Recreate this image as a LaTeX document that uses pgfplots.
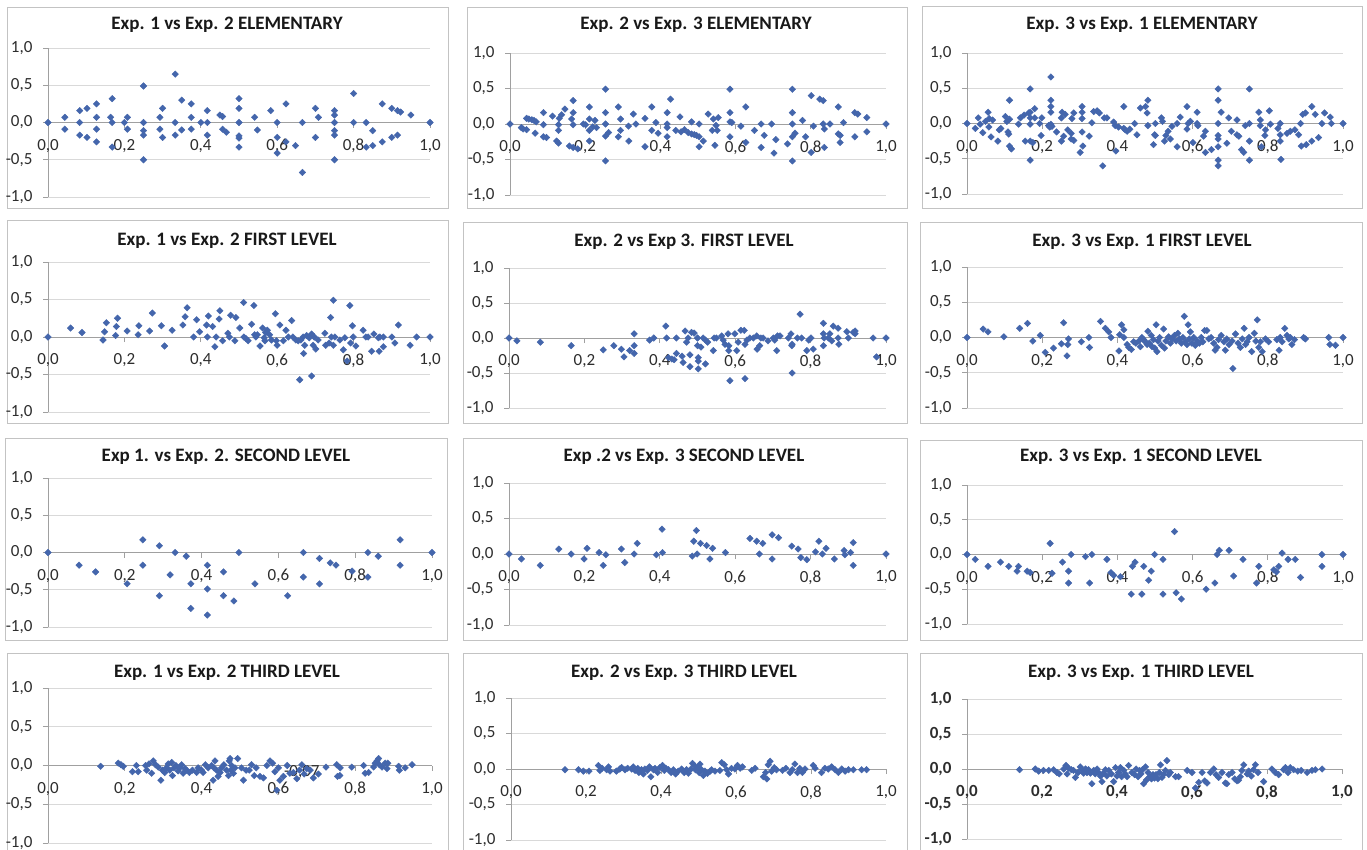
\documentclass[border=0pt]{standalone}
\usepackage{pgfplots}
\pgfplotsset{compat=1.18}
\usepackage{fontspec}
\setmainfont{Carlito}
\definecolor{mk}{RGB}{68,102,172}
\definecolor{gridc}{RGB}{217,217,217}
\definecolor{axc}{RGB}{160,160,160}
\definecolor{txt}{RGB}{45,45,45}
\definecolor{ttl}{RGB}{25,25,25}
\definecolor{brd}{RGB}{195,195,195}
\pgfplotsset{
 panel/.style={
  scale only axis, clip=false,
  xmin=0,xmax=1,ymin=-1,ymax=1,
  axis x line=middle, axis y line=left,
  axis line style={draw=axc,line width=0.9pt,-},
  hide obscured x ticks=false, hide obscured y ticks=false,
  xtick={0,0.2,0.4,0.6,0.8,1}, ytick={-1,-0.5,0,0.5,1},
  ymajorgrids, grid style={draw=gridc, line width=0.9pt},
  tick style={draw=axc, line width=0.9pt}, tick align=outside, major tick length=5pt,
  x tick label style={yshift=-8pt},
  y tick label style={xshift=-7pt},
  tick label style={font=\fontsize{17}{19}\selectfont, text=txt},
  /pgf/number format/fixed, /pgf/number format/fixed zerofill,
  /pgf/number format/precision=1, /pgf/number format/use comma,
  /pgf/number format/assume math mode=true,
 },
 pts/.style={only marks, mark=square*, mark size=2.3pt, mark options={rotate=45, fill=mk, draw=mk}},
}
\newcommand{\ttlfont}{\fontsize{19}{21}\selectfont\bfseries}
\begin{document}
\begin{tikzpicture}
\useasboundingbox (0pt,0pt) rectangle (1367pt,-849pt);
\fill[white] (0pt,0pt) rectangle (1367pt,-849pt);
% borders
\draw[brd, line width=0.9pt] (7pt,-7pt) rectangle (448pt,-208pt);
\draw[brd, line width=0.9pt] (467pt,-7pt) rectangle (907pt,-208pt);
\draw[brd, line width=0.9pt] (922pt,-6pt) rectangle (1362pt,-208pt);
\draw[brd, line width=0.9pt] (7pt,-220pt) rectangle (448pt,-423pt);
\draw[brd, line width=0.9pt] (463pt,-222pt) rectangle (907pt,-423pt);
\draw[brd, line width=0.9pt] (920pt,-222pt) rectangle (1362pt,-423pt);
\draw[brd, line width=0.9pt] (5pt,-438pt) rectangle (447pt,-640pt);
\draw[brd, line width=0.9pt] (463pt,-438pt) rectangle (907pt,-640pt);
\draw[brd, line width=0.9pt] (920pt,-440pt) rectangle (1362pt,-640pt);
\draw[brd, line width=0.9pt] (7pt,-860pt) -- (7pt,-653pt) -- (448pt,-653pt) -- (448pt,-860pt);
\draw[brd, line width=0.9pt] (463pt,-860pt) -- (463pt,-653pt) -- (907pt,-653pt) -- (907pt,-860pt);
\draw[brd, line width=0.9pt] (920pt,-860pt) -- (920pt,-653pt) -- (1362pt,-653pt) -- (1362pt,-860pt);
% titles
\node[font=\ttlfont, text=ttl] at (227pt,-25pt) {Exp. 1 vs Exp. 2 ELEMENTARY};
\node[font=\ttlfont, text=ttl] at (696pt,-25pt) {Exp. 2 vs Exp. 3 ELEMENTARY};
\node[font=\ttlfont, text=ttl] at (1142pt,-25pt) {Exp. 3 vs Exp. 1 ELEMENTARY};
\node[font=\ttlfont, text=ttl] at (227pt,-241pt) {Exp. 1 vs Exp. 2 FIRST LEVEL};
\node[font=\ttlfont, text=ttl] at (684pt,-242pt) {Exp. 2 vs Exp 3. FIRST LEVEL};
\node[font=\ttlfont, text=ttl] at (1142pt,-242pt) {Exp. 3 vs Exp. 1 FIRST LEVEL};
\node[font=\ttlfont, text=ttl] at (226pt,-457pt) {Exp 1. vs Exp. 2. SECOND LEVEL};
\node[font=\ttlfont, text=ttl] at (684pt,-457pt) {Exp .2 vs Exp. 3 SECOND LEVEL};
\node[font=\ttlfont, text=ttl] at (1141pt,-457pt) {Exp. 3 vs Exp. 1 SECOND LEVEL};
\node[font=\ttlfont, text=ttl] at (227pt,-673pt) {Exp. 1 vs Exp. 2 THIRD LEVEL};
\node[font=\ttlfont, text=ttl] at (684pt,-673pt) {Exp. 2 vs Exp. 3 THIRD LEVEL};
\node[font=\ttlfont, text=ttl] at (1141pt,-673pt) {Exp. 3 vs Exp. 1 THIRD LEVEL};

% Panel 1
\begin{axis}[panel, at={(48pt,-197pt)}, anchor=south west, width=382pt, height=149pt]
\addplot[pts] coordinates {(0,0) (0.044,0.07) (0.044,-0.09) (0.083,0.16) (0.083,0) (0.083,-0.17) (0.102,0.19) (0.102,-0.20) (0.127,0.25) (0.127,0.07) (0.127,-0.09) (0.127,-0.26) (0.164,0.07) (0.168,0.32) (0.168,0) (0.168,-0.33) (0.2,0) (0.208,0.07) (0.208,-0.09) (0.25,0.49) (0.25,0) (0.25,-0.11) (0.25,-0.17) (0.25,-0.5) (0.293,0.07) (0.293,-0.09) (0.3,0.19) (0.3,-0.2) (0.333,0.65) (0.333,0) (0.333,-0.17) (0.35,0.3) (0.35,-0.1) (0.375,0.25) (0.375,0.07) (0.375,-0.09) (0.4,0) (0.417,0.16) (0.417,0) (0.417,-0.17) (0.45,0.1) (0.457,0.08) (0.457,-0.09) (0.467,-0.13) (0.5,0.32) (0.5,0.19) (0.5,0) (0.5,-0.18) (0.5,-0.21) (0.5,-0.33) (0.541,0.07) (0.548,-0.1) (0.583,0.16) (0.6,0) (0.6,-0.2) (0.6,-0.41) (0.623,0.25) (0.623,-0.26) (0.648,-0.31) (0.666,0) (0.666,-0.67) (0.7,0.19) (0.7,-0.2) (0.708,0.07) (0.75,0.16) (0.75,0.1) (0.75,0) (0.75,-0.11) (0.75,-0.17) (0.75,-0.5) (0.8,0.39) (0.8,0) (0.833,0) (0.833,-0.33) (0.85,-0.11) (0.85,-0.31) (0.875,0.25) (0.875,-0.26) (0.9,0.19) (0.9,-0.2) (0.915,0.16) (0.915,-0.17) (0.923,0.14) (0.95,0.1) (1,0)};
\end{axis}

% Panel 2
\begin{axis}[panel, at={(510pt,-195pt)}, anchor=south west, width=376pt, height=142pt]
\addplot[pts] coordinates {(0,0) (0.03,-0.05) (0.035,-0.07) (0.044,-0.08) (0.044,0.08) (0.05,0.07) (0.058,0.06) (0.064,0.05) (0.07,0.03) (0.067,-0.13) (0.089,0.16) (0.089,-0.01) (0.089,-0.18) (0.097,-0.19) (0.113,0.11) (0.124,-0.24) (0.129,-0.27) (0.129,-0.09) (0.129,-0.01) (0.131,0.08) (0.137,0.13) (0.146,0.21) (0.158,-0.31) (0.164,0.07) (0.168,0.33) (0.168,0.16) (0.168,-0.01) (0.168,-0.33) (0.18,-0.35) (0.195,0) (0.201,-0.01) (0.211,0.24) (0.211,0.07) (0.211,-0.09) (0.211,-0.24) (0.22,-0.04) (0.226,0.05) (0.23,-0.05) (0.254,0.49) (0.254,0.16) (0.254,0) (0.254,-0.17) (0.254,-0.52) (0.262,-0.12) (0.288,0.24) (0.288,-0.18) (0.294,0.07) (0.294,-0.09) (0.315,-0.03) (0.316,-0.24) (0.328,0.14) (0.335,0) (0.359,0.08) (0.359,-0.32) (0.377,0.24) (0.377,-0.09) (0.388,0.02) (0.394,-0.13) (0.418,0.16) (0.418,0) (0.418,-0.05) (0.418,-0.18) (0.427,0.35) (0.441,-0.09) (0.452,0.1) (0.455,-0.11) (0.464,-0.08) (0.474,-0.12) (0.483,0.03) (0.483,-0.14) (0.49,-0.15) (0.496,-0.16) (0.503,0) (0.503,-0.18) (0.503,-0.32) (0.514,-0.24) (0.527,0.14) (0.538,-0.09) (0.541,0.07) (0.545,-0.3) (0.548,-0.02) (0.551,-0.09) (0.554,0.09) (0.585,0.49) (0.585,0.16) (0.585,0.03) (0.585,-0.18) (0.59,0.02) (0.614,-0.03) (0.627,0.24) (0.627,-0.26) (0.65,-0.09) (0.668,0) (0.668,-0.33) (0.676,-0.16) (0.696,0) (0.702,-0.41) (0.707,-0.22) (0.738,-0.28) (0.751,0.49) (0.751,0.16) (0.751,0) (0.751,-0.18) (0.751,-0.52) (0.758,-0.13) (0.778,0.05) (0.786,-0.18) (0.801,0.4) (0.801,-0.4) (0.807,-0.03) (0.824,0.35) (0.833,0.33) (0.833,0) (0.836,-0.07) (0.836,-0.33) (0.851,0) (0.873,0.24) (0.873,-0.14) (0.878,-0.16) (0.878,-0.26) (0.887,0.02) (0.917,0.16) (0.917,-0.18) (0.925,0.14) (0.949,0.09) (0.949,-0.11) (1,0)};
\end{axis}

% Panel 3
\begin{axis}[panel, at={(967pt,-194pt)}, anchor=south west, width=376pt, height=141pt]
\addplot[pts] coordinates {(0,0) (0.022,-0.07) (0.03,0.08) (0.035,-0.01) (0.042,-0.13) (0.049,0.03) (0.056,0.16) (0.058,-0.05) (0.059,0.07) (0.064,-0.19) (0.068,0.05) (0.082,-0.25) (0.086,-0.09) (0.09,-0.07) (0.102,0.1) (0.106,0.03) (0.109,-0.12) (0.111,-0.15) (0.113,0.33) (0.113,0.06) (0.113,-0.32) (0.118,-0.36) (0.137,-0.01) (0.142,0.08) (0.152,0.12) (0.155,-0.25) (0.164,0.15) (0.168,0.49) (0.168,0.16) (0.168,0.08) (0.168,-0.01) (0.168,-0.25) (0.168,-0.52) (0.175,-0.27) (0.18,0.21) (0.18,0.08) (0.193,0) (0.197,-0.17) (0.199,0.08) (0.217,-0.03) (0.22,-0.05) (0.223,0.66) (0.223,0.33) (0.223,0.24) (0.223,0.16) (0.223,-0.01) (0.226,-0.04) (0.238,-0.12) (0.251,-0.25) (0.251,0.08) (0.253,0.16) (0.257,-0.18) (0.261,0.13) (0.268,-0.09) (0.277,-0.14) (0.277,-0.22) (0.279,0.07) (0.284,0.15) (0.284,-0.24) (0.301,-0.41) (0.306,0.24) (0.306,0.16) (0.306,0.07) (0.306,-0.12) (0.308,-0.32) (0.325,-0.18) (0.332,0.01) (0.337,0.17) (0.346,0.18) (0.352,0.15) (0.361,-0.6) (0.365,0.08) (0.372,0.08) (0.39,0.02) (0.394,-0.03) (0.396,-0.39) (0.403,-0.05) (0.417,0.24) (0.417,-0.07) (0.421,-0.09) (0.426,-0.11) (0.433,-0.08) (0.446,0) (0.452,-0.16) (0.461,0.22) (0.475,0.24) (0.479,0.15) (0.481,0.33) (0.481,-0.03) (0.496,-0.3) (0.499,-0.16) (0.501,0) (0.501,-0.17) (0.517,0.08) (0.52,0.03) (0.525,-0.25) (0.529,-0.17) (0.535,-0.11) (0.541,-0.22) (0.545,-0.04) (0.559,0) (0.559,-0.33) (0.567,0.09) (0.585,0.24) (0.585,-0.08) (0.588,0) (0.594,0.03) (0.601,-0.27) (0.612,0.16) (0.612,0) (0.614,-0.03) (0.629,-0.18) (0.634,-0.11) (0.634,-0.41) (0.65,-0.37) (0.668,0.49) (0.668,0.33) (0.668,0) (0.668,-0.17) (0.668,-0.22) (0.668,-0.33) (0.668,-0.52) (0.668,-0.6) (0.676,0.16) (0.691,-0.28) (0.696,0.08) (0.703,-0.11) (0.718,0.05) (0.718,-0.16) (0.723,-0.18) (0.73,-0.37) (0.736,-0.41) (0.74,-0.03) (0.751,0.49) (0.751,0) (0.751,-0.25) (0.751,-0.52) (0.776,0.16) (0.78,0.05) (0.78,-0.03) (0.783,-0.33) (0.792,-0.17) (0.794,-0.09) (0.804,0.18) (0.807,-0.01) (0.827,-0.07) (0.833,0) (0.833,-0.16) (0.833,-0.25) (0.835,-0.51) (0.851,-0.14) (0.86,-0.11) (0.872,-0.09) (0.882,-0.16) (0.887,0) (0.889,-0.32) (0.893,0.13) (0.9,0.15) (0.902,-0.3) (0.917,0.24) (0.917,-0.25) (0.926,0.13) (0.935,-0.2) (0.944,0) (0.951,0.15) (0.966,0.09) (0.969,0) (1,0)};
\end{axis}

% Panel 4
\begin{axis}[panel, at={(48pt,-412pt)}, anchor=south west, width=382pt, height=150pt]
\addplot[pts] coordinates {(0,0) (0.059,0.12) (0.089,0.06) (0.144,-0.04) (0.148,0.07) (0.153,0.19) (0.177,0.02) (0.179,0.14) (0.182,0.25) (0.207,0.08) (0.236,0.03) (0.238,0.15) (0.266,0.08) (0.273,0.32) (0.297,0.15) (0.305,-0.12) (0.325,0.09) (0.353,0.16) (0.359,0.27) (0.364,0.39) (0.381,0) (0.389,0.23) (0.397,0.07) (0.415,0.16) (0.417,0) (0.42,0.28) (0.431,0.14) (0.437,-0.13) (0.44,0) (0.448,0.24) (0.45,0.35) (0.457,-0.05) (0.471,0.05) (0.475,0) (0.478,0.29) (0.489,-0.05) (0.492,0.26) (0.502,0.12) (0.512,0.46) (0.513,0) (0.518,-0.02) (0.524,-0.05) (0.533,0.17) (0.539,0.42) (0.541,0.03) (0.544,0) (0.548,0.03) (0.555,-0.12) (0.562,0.12) (0.566,-0.01) (0.568,-0.05) (0.57,0.06) (0.574,0.09) (0.58,0.03) (0.585,-0.04) (0.595,0.31) (0.598,-0.05) (0.6,-0.11) (0.607,0.16) (0.616,-0.05) (0.623,0.09) (0.629,0) (0.638,0.22) (0.641,0) (0.649,-0.04) (0.655,-0.05) (0.659,-0.57) (0.662,-0.04) (0.668,0) (0.669,-0.22) (0.672,-0.11) (0.677,0.02) (0.684,-0.01) (0.69,-0.52) (0.69,0.04) (0.694,-0.11) (0.697,0) (0.701,-0.16) (0.707,-0.04) (0.725,0.05) (0.727,-0.11) (0.736,-0.08) (0.74,0.26) (0.742,0) (0.747,0.49) (0.747,-0.11) (0.751,0) (0.764,-0.04) (0.773,-0.17) (0.777,-0.01) (0.783,-0.32) (0.79,0.42) (0.792,-0.08) (0.797,0.15) (0.799,0) (0.806,-0.12) (0.825,0.09) (0.832,0) (0.838,0) (0.847,-0.19) (0.853,0.04) (0.865,-0.01) (0.867,-0.19) (0.869,0) (0.878,-0.13) (0.878,0) (0.9,0) (0.908,-0.08) (0.917,0.16) (0.948,-0.11) (0.965,0) (1,0)};
\end{axis}

% Panel 5
\begin{axis}[panel, at={(509pt,-408pt)}, anchor=south west, width=377pt, height=140pt]
\addplot[pts] coordinates {(0,0) (0.021,-0.04) (0.083,-0.06) (0.165,-0.11) (0.25,-0.17) (0.278,-0.11) (0.298,-0.16) (0.305,-0.27) (0.32,-0.18) (0.332,0.06) (0.332,-0.11) (0.332,-0.22) (0.373,-0.03) (0.384,0) (0.416,0.17) (0.418,0) (0.423,-0.28) (0.432,-0.3) (0.438,-0.31) (0.444,0) (0.444,-0.22) (0.459,-0.26) (0.462,-0.35) (0.467,0.1) (0.471,-0.06) (0.475,0) (0.48,-0.24) (0.48,-0.41) (0.484,0.08) (0.491,0.07) (0.5,0) (0.5,-0.11) (0.502,-0.28) (0.502,-0.33) (0.502,-0.44) (0.509,-0.13) (0.515,0) (0.521,-0.03) (0.521,-0.37) (0.527,-0.06) (0.544,0) (0.542,-0.18) (0.55,0) (0.564,0.03) (0.568,-0.03) (0.573,-0.09) (0.581,0.06) (0.583,-0.18) (0.583,-0.11) (0.586,-0.61) (0.599,0.06) (0.604,-0.18) (0.608,-0.06) (0.615,0.11) (0.624,0.11) (0.626,-0.58) (0.626,-0.09) (0.631,-0.03) (0.639,0) (0.648,0) (0.657,0.03) (0.658,-0.16) (0.665,-0.11) (0.668,0) (0.674,0) (0.687,-0.04) (0.701,0) (0.705,-0.03) (0.71,-0.18) (0.712,0.03) (0.719,0.03) (0.741,0) (0.748,0.06) (0.75,-0.11) (0.751,-0.5) (0.751,-0.09) (0.765,0) (0.772,0.34) (0.776,0) (0.79,-0.18) (0.795,-0.03) (0.801,0) (0.807,-0.16) (0.834,0.21) (0.834,0.06) (0.834,-0.11) (0.836,0) (0.847,0) (0.851,0.06) (0.856,-0.04) (0.86,0.17) (0.873,0.14) (0.873,0) (0.875,-0.09) (0.896,0.09) (0.9,0) (0.913,0.08) (0.918,0.1) (0.918,0.06) (0.966,0) (0.975,-0.27) (1,0)};
\end{axis}

% Panel 6
\begin{axis}[panel, at={(967pt,-408pt)}, anchor=south west, width=376pt, height=141pt]
\addplot[pts] coordinates {(0,0) (0.043,0.12) (0.056,0.08) (0.098,0.01) (0.14,0.13) (0.161,0.2) (0.175,-0.05) (0.195,0.03) (0.208,-0.21) (0.23,-0.15) (0.251,-0.09) (0.257,0.21) (0.266,-0.26) (0.268,-0.1) (0.27,-0.02) (0.304,-0.06) (0.324,0) (0.326,-0.14) (0.355,0.23) (0.368,0.13) (0.377,0.08) (0.383,0) (0.404,-0.19) (0.406,0.04) (0.411,0.18) (0.417,0.11) (0.417,0) (0.426,-0.1) (0.43,-0.14) (0.437,-0.17) (0.443,-0.06) (0.449,-0.08) (0.457,-0.05) (0.461,-0.13) (0.465,0) (0.47,-0.03) (0.474,-0.06) (0.479,-0.1) (0.481,0.09) (0.485,-0.08) (0.49,0.03) (0.492,-0.13) (0.496,-0.03) (0.499,-0.15) (0.503,0.18) (0.505,-0.2) (0.508,-0.05) (0.512,0) (0.517,-0.11) (0.523,0.12) (0.525,-0.15) (0.529,-0.05) (0.536,0.01) (0.541,-0.08) (0.545,-0.02) (0.552,0.03) (0.556,-0.05) (0.561,0.06) (0.565,-0.02) (0.57,-0.08) (0.574,0) (0.578,0.3) (0.581,-0.06) (0.585,-0.1) (0.588,0.18) (0.591,-0.02) (0.594,0.08) (0.598,-0.08) (0.603,0) (0.607,-0.11) (0.612,-0.05) (0.618,-0.08) (0.623,0) (0.627,-0.06) (0.632,0.1) (0.638,0.1) (0.643,-0.02) (0.649,0) (0.656,-0.08) (0.66,-0.18) (0.665,-0.14) (0.669,-0.03) (0.676,0.03) (0.683,-0.06) (0.687,-0.18) (0.691,-0.02) (0.697,-0.1) (0.705,-0.05) (0.707,-0.44) (0.714,0.05) (0.721,-0.08) (0.727,-0.14) (0.732,-0.02) (0.737,0.13) (0.741,-0.1) (0.745,-0.06) (0.75,0) (0.757,-0.2) (0.764,0.06) (0.768,-0.05) (0.772,0.25) (0.776,-0.14) (0.78,-0.06) (0.785,-0.2) (0.794,-0.02) (0.802,-0.06) (0.824,-0.03) (0.83,-0.18) (0.833,0) (0.838,-0.06) (0.845,0.13) (0.851,0.03) (0.856,-0.02) (0.86,0) (0.864,-0.1) (0.871,-0.03) (0.895,0) (0.9,-0.02) (0.962,0) (0.965,-0.1) (0.98,-0.11) (1,0)};
\end{axis}

% Panel 7
\begin{axis}[panel, at={(48pt,-627pt)}, anchor=south west, width=384pt, height=149pt]
\addplot[pts] coordinates {(0,0) (0.081,-0.17) (0.124,-0.26) (0.206,-0.42) (0.247,0.17) (0.247,-0.17) (0.29,0.09) (0.29,-0.58) (0.318,-0.3) (0.331,0) (0.36,-0.05) (0.372,-0.42) (0.372,-0.75) (0.415,-0.17) (0.415,-0.49) (0.415,-0.84) (0.457,-0.26) (0.457,-0.58) (0.484,-0.65) (0.497,0) (0.539,-0.42) (0.624,-0.58) (0.665,0) (0.665,-0.33) (0.707,-0.08) (0.707,-0.42) (0.735,-0.14) (0.75,-0.17) (0.792,-0.25) (0.833,0) (0.833,-0.33) (0.86,-0.05) (0.917,0.17) (0.917,-0.17) (1,0)};
\end{axis}

% Panel 8
\begin{axis}[panel, at={(509pt,-625pt)}, anchor=south west, width=377pt, height=142pt]
\addplot[pts] coordinates {(0,0) (0.033,-0.07) (0.083,-0.16) (0.132,0.07) (0.165,0) (0.199,-0.07) (0.207,0.08) (0.239,0.02) (0.25,-0.16) (0.257,-0.01) (0.298,0.07) (0.307,-0.12) (0.332,0) (0.34,0.15) (0.391,-0.01) (0.406,0.35) (0.407,0.02) (0.486,-0.03) (0.49,0.18) (0.497,0.33) (0.499,0) (0.508,0.15) (0.524,0.12) (0.533,-0.07) (0.54,0.08) (0.574,0.02) (0.639,0.22) (0.657,0.18) (0.664,0) (0.673,0.15) (0.698,0.27) (0.698,-0.07) (0.715,0.23) (0.75,0.11) (0.767,0.07) (0.774,-0.05) (0.79,-0.08) (0.813,0.03) (0.822,0.18) (0.831,0) (0.841,0.08) (0.863,-0.07) (0.889,0.05) (0.891,-0.01) (0.906,0.02) (0.913,0.16) (0.913,-0.16) (1,0)};
\end{axis}

% Panel 9
\begin{axis}[panel, at={(967pt,-624pt)}, anchor=south west, width=376pt, height=139pt]
\addplot[pts] coordinates {(0,0) (0.022,-0.07) (0.056,-0.17) (0.089,-0.11) (0.111,-0.17) (0.133,-0.24) (0.137,-0.17) (0.16,-0.24) (0.168,-0.26) (0.221,0.16) (0.226,-0.27) (0.254,-0.11) (0.27,-0.24) (0.27,-0.41) (0.277,0) (0.315,-0.03) (0.326,-0.41) (0.332,0) (0.372,-0.07) (0.383,-0.26) (0.39,-0.3) (0.408,-0.32) (0.437,-0.57) (0.44,-0.17) (0.447,-0.11) (0.465,-0.57) (0.47,-0.17) (0.483,-0.37) (0.49,-0.24) (0.499,0) (0.521,-0.07) (0.521,-0.57) (0.552,0.33) (0.556,-0.55) (0.57,-0.64) (0.636,-0.5) (0.659,-0.41) (0.665,0) (0.671,0.06) (0.697,0.06) (0.709,-0.31) (0.734,-0.07) (0.77,-0.41) (0.776,-0.17) (0.816,-0.22) (0.823,-0.25) (0.829,-0.17) (0.838,0.02) (0.854,-0.07) (0.873,-0.07) (0.887,-0.33) (0.944,0) (0.944,-0.17) (1,0)};
\end{axis}

% Panel 10
\begin{axis}[panel, at={(48pt,-843pt)}, anchor=south west, width=384pt, height=155pt]
\addplot[pts] coordinates {(0.137,-0.01) (0.183,0.03) (0.19,0.01) (0.196,-0.01) (0.22,-0.08) (0.23,0) (0.235,-0.08) (0.254,0) (0.257,-0.06) (0.263,0.02) (0.27,-0.1) (0.274,0.06) (0.28,0.01) (0.287,-0.02) (0.294,-0.19) (0.298,-0.06) (0.304,-0.09) (0.309,-0.03) (0.313,0.02) (0.317,-0.06) (0.322,0.04) (0.324,-0.13) (0.328,-0.03) (0.333,0) (0.339,-0.07) (0.343,-0.03) (0.348,0.01) (0.352,-0.1) (0.357,-0.04) (0.361,-0.06) (0.368,-0.09) (0.376,-0.06) (0.387,-0.09) (0.391,-0.03) (0.4,-0.06) (0.404,-0.09) (0.41,0.01) (0.417,-0.03) (0.426,0) (0.432,-0.03) (0.435,0.06) (0.439,-0.06) (0.443,-0.14) (0.43,-0.19) (0.448,-0.09) (0.452,-0.03) (0.458,0.01) (0.465,-0.06) (0.47,-0.13) (0.472,0.06) (0.474,0.09) (0.476,-0.06) (0.478,0) (0.483,-0.1) (0.487,-0.03) (0.494,0.09) (0.504,-0.03) (0.509,-0.19) (0.516,-0.06) (0.524,-0.06) (0.53,0.01) (0.537,-0.13) (0.542,-0.03) (0.552,-0.14) (0.561,-0.16) (0.57,0) (0.578,0.06) (0.585,0.03) (0.591,-0.08) (0.596,-0.32) (0.6,-0.03) (0.604,-0.19) (0.613,-0.14) (0.623,0) (0.63,-0.1) (0.639,-0.09) (0.648,-0.17) (0.655,-0.06) (0.661,0.01) (0.667,-0.11) (0.674,-0.04) (0.683,-0.06) (0.691,-0.16) (0.704,-0.11) (0.724,-0.02) (0.752,0.01) (0.754,-0.14) (0.76,-0.13) (0.761,-0.03) (0.791,-0.02) (0.822,0) (0.826,-0.1) (0.835,-0.09) (0.848,-0.02) (0.852,0.03) (0.857,0.06) (0.861,0.09) (0.863,0.01) (0.87,-0.02) (0.878,0.03) (0.883,-0.04) (0.885,0.03) (0.913,-0.01) (0.915,-0.06) (0.93,-0.03) (0.948,0.01)};
\node[font=\fontsize{17}{19}\selectfont, text=txt] at (axis cs:0.661,-0.08) {-0,07};
\end{axis}

% Panel 11
\begin{axis}[panel, at={(511pt,-840pt)}, anchor=south west, width=375pt, height=142pt]
\addplot[pts] coordinates {(0.144,-0.01) (0.18,-0.01) (0.193,-0.03) (0.208,-0.03) (0.233,0.05) (0.237,-0.02) (0.243,0.01) (0.255,-0.01) (0.26,0.03) (0.264,-0.03) (0.281,-0.03) (0.29,0) (0.295,0.02) (0.304,-0.01) (0.311,0.01) (0.322,0) (0.326,0.03) (0.331,-0.02) (0.338,0.01) (0.341,-0.05) (0.348,-0.01) (0.353,-0.07) (0.357,0) (0.364,-0.02) (0.369,0.03) (0.373,-0.11) (0.38,-0.01) (0.384,0.01) (0.391,-0.05) (0.397,0.02) (0.404,0.05) (0.409,-0.02) (0.413,0.01) (0.42,-0.01) (0.427,-0.05) (0.433,-0.01) (0.439,-0.07) (0.446,-0.03) (0.455,0) (0.462,-0.05) (0.468,-0.01) (0.473,-0.06) (0.48,0) (0.484,0.08) (0.489,0.05) (0.492,-0.01) (0.498,0.02) (0.502,-0.05) (0.504,0.07) (0.508,-0.01) (0.513,-0.09) (0.517,-0.03) (0.524,-0.06) (0.531,-0.03) (0.535,-0.01) (0.544,-0.03) (0.557,-0.02) (0.562,0.09) (0.569,0.06) (0.575,-0.01) (0.58,-0.07) (0.588,0.01) (0.597,0) (0.604,0.05) (0.611,0.01) (0.617,0.03) (0.642,-0.02) (0.651,0.01) (0.673,-0.11) (0.679,-0.05) (0.682,-0.14) (0.686,0.06) (0.691,0.11) (0.695,-0.03) (0.702,0.02) (0.708,-0.01) (0.724,-0.02) (0.733,0.01) (0.744,-0.05) (0.75,-0.01) (0.757,0.07) (0.764,-0.05) (0.77,0.01) (0.777,-0.05) (0.784,0) (0.806,0.05) (0.811,0.01) (0.828,-0.05) (0.837,0.01) (0.846,0) (0.855,0.03) (0.864,-0.01) (0.873,-0.05) (0.882,0) (0.891,-0.03) (0.9,-0.01) (0.913,-0.01) (0.935,-0.01) (0.948,-0.01)};
\end{axis}

% Panel 12
\begin{axis}[panel, at={(967pt,-839pt)}, anchor=south west, width=375pt, height=140pt,
  tick label style={font=\fontsize{17}{19}\selectfont\bfseries}]
\addplot[pts] coordinates {(0.14,-0.01) (0.182,0) (0.191,-0.03) (0.204,-0.02) (0.218,-0.02) (0.231,-0.01) (0.24,-0.05) (0.246,-0.07) (0.258,0) (0.264,0.05) (0.267,-0.07) (0.271,0.01) (0.278,-0.01) (0.284,-0.02) (0.289,-0.12) (0.296,-0.05) (0.302,0.03) (0.307,-0.01) (0.311,-0.06) (0.316,0) (0.32,-0.05) (0.324,-0.01) (0.329,-0.06) (0.333,-0.21) (0.338,-0.02) (0.342,-0.07) (0.347,0) (0.351,-0.05) (0.356,-0.1) (0.36,-0.18) (0.364,-0.06) (0.369,-0.01) (0.373,-0.1) (0.378,-0.02) (0.385,-0.07) (0.391,-0.18) (0.396,0.02) (0.4,-0.1) (0.404,-0.05) (0.409,0.02) (0.412,-0.11) (0.418,-0.02) (0.422,-0.07) (0.427,-0.11) (0.431,0.05) (0.44,-0.05) (0.447,-0.08) (0.451,0) (0.456,-0.11) (0.46,-0.02) (0.464,-0.07) (0.468,-0.01) (0.471,-0.21) (0.476,0.03) (0.478,-0.16) (0.483,-0.05) (0.487,-0.11) (0.492,-0.14) (0.496,-0.08) (0.5,-0.13) (0.504,-0.08) (0.509,-0.14) (0.513,-0.05) (0.516,0.06) (0.52,-0.12) (0.524,-0.08) (0.529,-0.02) (0.533,0.12) (0.538,-0.08) (0.542,-0.05) (0.556,-0.11) (0.564,-0.11) (0.587,-0.02) (0.6,-0.05) (0.609,-0.27) (0.618,-0.19) (0.627,-0.05) (0.634,-0.17) (0.64,-0.2) (0.649,-0.05) (0.658,0) (0.664,-0.08) (0.671,-0.12) (0.68,-0.05) (0.689,-0.2) (0.693,-0.21) (0.698,-0.08) (0.707,-0.05) (0.714,-0.14) (0.72,-0.17) (0.724,-0.16) (0.729,-0.11) (0.733,-0.02) (0.738,0.06) (0.747,-0.07) (0.751,-0.03) (0.758,-0.1) (0.764,-0.01) (0.769,0.06) (0.776,-0.05) (0.791,-0.18) (0.813,0) (0.822,-0.05) (0.831,-0.08) (0.844,-0.01) (0.849,0.02) (0.856,-0.05) (0.862,0.02) (0.871,-0.01) (0.882,-0.03) (0.891,-0.02) (0.907,-0.05) (0.92,-0.02) (0.929,-0.01) (0.947,0)};
\end{axis}
\end{tikzpicture}
\end{document}
